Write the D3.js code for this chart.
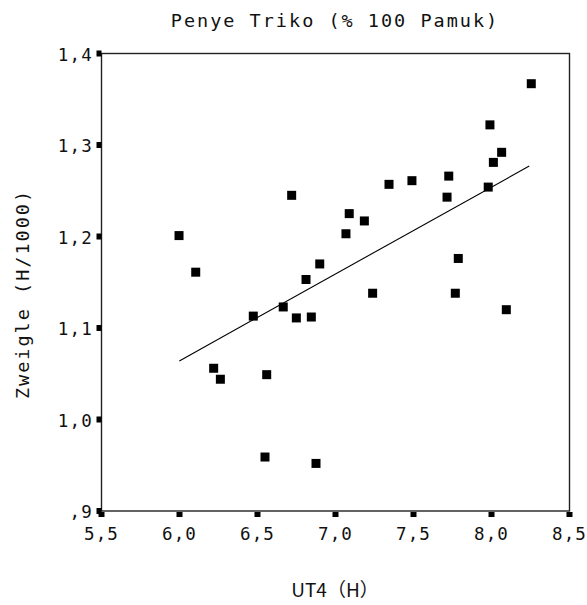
<!DOCTYPE html>
<html>
<head>
<meta charset="utf-8">
<script src="https://cdn.jsdelivr.net/npm/d3@7"></script>
<style>
  body { margin: 0; background: #fff; }
  .lbl { font-family: "DejaVu Sans Mono", monospace; fill: #111; }
</style>
</head>
<body>
<div id="chart"></div>
<script>
// data
var ut4 = [5.997, 6.104, 6.719, 7.088, 7.185, 7.067, 6.899, 6.811, 7.238, 6.665,
           6.473, 6.749, 6.845, 6.219, 6.262, 6.559, 6.548, 6.875, 8.255, 7.990,
           8.065, 8.012, 7.343, 7.490, 7.726, 7.715, 7.979, 7.787, 7.768, 8.095];
var zweigle = [1.201, 1.161, 1.245, 1.225, 1.217, 1.203, 1.170, 1.153, 1.138, 1.123,
               1.113, 1.111, 1.112, 1.056, 1.044, 1.049, 0.959, 0.952, 1.367, 1.322,
               1.292, 1.281, 1.257, 1.261, 1.266, 1.243, 1.254, 1.176, 1.138, 1.120];
// fit line ends
var fitX = [5.999, 8.242];
var fitY = [1.064, 1.277];

var xTicks = [5.5, 6.0, 6.5, 7.0, 7.5, 8.0, 8.5];
var xTickLabels = ["5,5", "6,0", "6,5", "7,0", "7,5", "8,0", "8,5"];
var yTicks = [0.9, 1.0, 1.1, 1.2, 1.3, 1.4];
var yTickLabels = [",9", "1,0", "1,1", "1,2", "1,3", "1,4"];

var W = 587, H = 605;
var x = d3.scaleLinear().domain([5.5, 8.5]).range([101.5, 569.5]);
var y = d3.scaleLinear().domain([0.9, 1.4]).range([511, 53.5]);

var svg = d3.select("#chart").append("svg")
  .attr("width", W).attr("height", H);

// frame
svg.append("rect")
  .attr("x", x(5.5)).attr("y", y(1.4))
  .attr("width", x(8.5) - x(5.5)).attr("height", y(0.9) - y(1.4))
  .attr("fill", "none").attr("stroke", "#222").attr("stroke-width", 1.4);

// tick squares
svg.selectAll(".xt").data(xTicks).enter().append("rect")
  .attr("x", function(d){ return x(d) - 3; })
  .attr("y", y(0.9) + 1)
  .attr("width", 6).attr("height", 5)
  .attr("fill", "#000");
svg.selectAll(".yt").data(yTicks).enter().append("rect")
  .attr("x", x(5.5) - 5)
  .attr("y", function(d){ return y(d) - 3; })
  .attr("width", 5).attr("height", 6)
  .attr("fill", "#000");

// tick labels
svg.selectAll(".xl").data(xTicks).enter().append("text")
  .attr("class", "lbl")
  .attr("x", function(d){ return x(d); })
  .attr("y", 540)
  .attr("text-anchor", "middle")
  .style("font-size", "17.5px").style("letter-spacing", "1.2px")
  .text(function(d, i){ return xTickLabels[i]; });
svg.selectAll(".yl").data(yTicks).enter().append("text")
  .attr("class", "lbl")
  .attr("x", 93)
  .attr("y", function(d){ return y(d) + 7; })
  .attr("text-anchor", "end")
  .style("font-size", "17.5px").style("letter-spacing", "1.2px")
  .text(function(d, i){ return yTickLabels[i]; });

// fit line
var line = d3.line()
  .x(function(d){ return x(d[0]); })
  .y(function(d){ return y(d[1]); });
svg.append("path")
  .datum(fitX.map(function(v, i){ return [v, fitY[i]]; }))
  .attr("d", line)
  .attr("fill", "none").attr("stroke", "#000").attr("stroke-width", 1.1);

// points
svg.selectAll(".pt").data(ut4).enter().append("rect")
  .attr("x", function(d){ return x(d) - 4.5; })
  .attr("y", function(d, i){ return y(zweigle[i]) - 4.5; })
  .attr("width", 9).attr("height", 9)
  .attr("fill", "#000");

// titles
svg.append("text").attr("class", "lbl")
  .attr("x", 335).attr("y", 27)
  .attr("text-anchor", "middle")
  .style("font-size", "18.5px").style("letter-spacing", "2px")
  .text("Penye Triko (% 100 Pamuk)");

svg.append("text").attr("class", "lbl")
  .attr("transform", "translate(29,294) rotate(-90)")
  .attr("text-anchor", "middle")
  .style("font-size", "18.5px").style("letter-spacing", "2px")
  .text("Zweigle (H/1000)");

svg.append("text")
  .attr("x", 335).attr("y", 597)
  .attr("text-anchor", "middle")
  .style("font-family", "'Noto Sans CJK SC', sans-serif")
  .style("font-size", "19px")
  .attr("fill", "#111")
  .text("UT4（H）");
</script>
</body>
</html>
